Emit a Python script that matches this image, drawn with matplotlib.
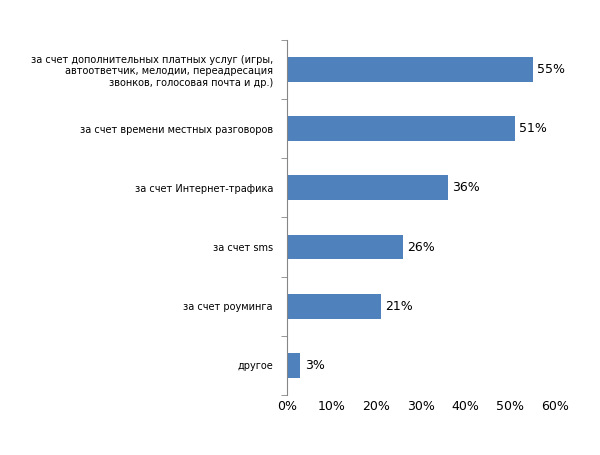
import matplotlib.pyplot as plt
import numpy as np

categories = ['за счет дополнительных платных услуг (игры,\nавтоответчик, мелодии, переадресация\nзвонков, голосовая почта и др.)',
              'за счет времени местных разговоров',
              'за счет Интернет-трафика',
              'за счет sms',
              'за счет роуминга',
              'другое']
values = [55, 51, 36, 26, 21, 3]

plt.rcParams['font.family'] = ['DejaVu Sans']
fig = plt.figure(figsize=(6, 4.55), dpi=100)
ax = fig.add_axes([0.478, 0.132, 0.447, 0.78])

y = np.arange(len(categories))[::-1]
ax.barh(y, values, height=0.42, color='#4f81bd')
for yi, v in zip(y, values):
    ax.text(v + 1, yi, f'{v}%', va='center', ha='left', fontsize=9)

ax.set_xlim(0, 60)
ax.set_ylim(-0.5, len(categories) - 0.5)
ax.set_xticks(range(0, 61, 10))
ax.set_xticklabels([f'{t}%' for t in range(0, 61, 10)], fontsize=9)
ax.set_yticks(y)
ax.set_yticklabels(categories, fontsize=7, ha='right', multialignment='right')
ax.tick_params(axis='y', length=0, pad=10)
ax.set_yticks(np.arange(-0.5, len(categories)), minor=True)
ax.tick_params(axis='y', which='minor', length=4, direction='out', color='#868686')
ax.tick_params(axis='x', length=0)
for s in ['top', 'right', 'bottom']:
    ax.spines[s].set_visible(False)
ax.spines['left'].set_color('#868686')

fig.savefig('out.png', dpi=100)
